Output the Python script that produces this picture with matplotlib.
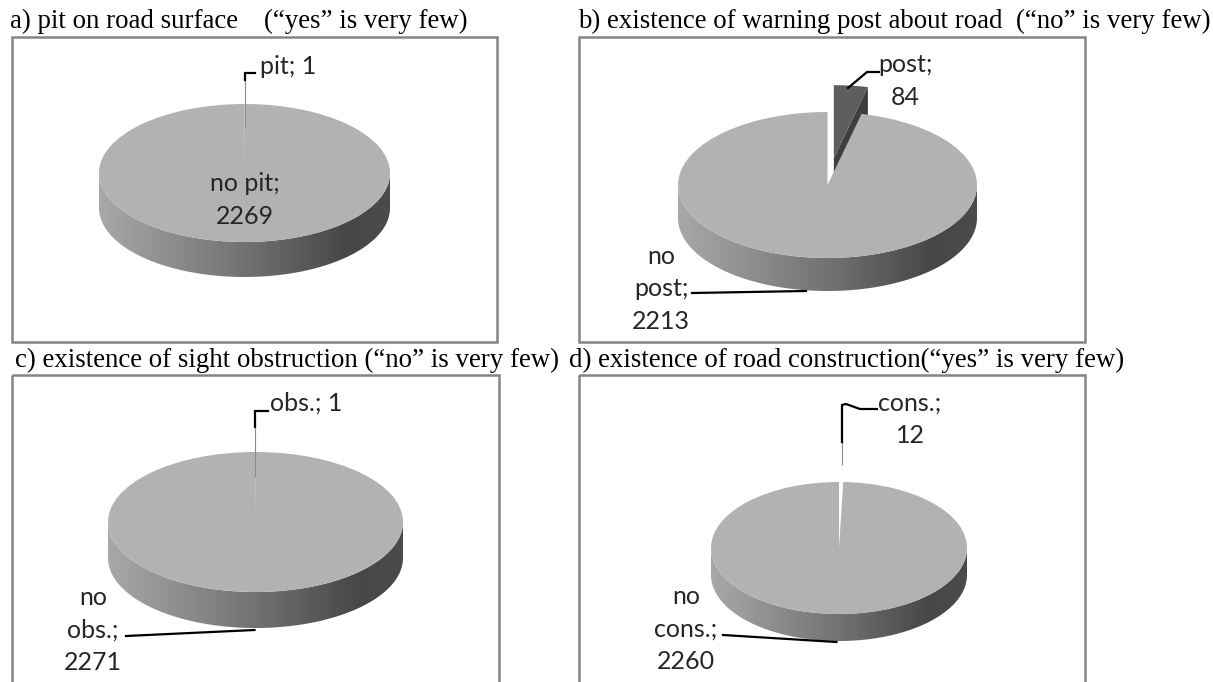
import numpy as np
import matplotlib.pyplot as plt
from matplotlib.colors import LinearSegmentedColormap
from matplotlib.patches import Polygon, Rectangle

W, H = 1213, 682

# chart text and values
titles = [
    'a) pit on road surface',
    'b) existence of warning post about road  (\u201cno\u201d is very few)',
    'c) existence of sight obstruction (\u201cno\u201d is very few)',
    'd) existence of road construction(\u201cyes\u201d is very few)',
]
note_a = '(\u201cyes\u201d is very few)'
small_names = ['pit', 'post', 'obs.', 'cons.']
small_counts = [1, 84, 1, 12]
big_names = ['no pit', 'no post', 'no obs.', 'no cons.']
big_counts = [2269, 2213, 2271, 2260]

# layout in pixels (y down)
TITLE_POS = [(10, 28), (578, 28), (15, 367), (569, 367)]
NOTE_POS = (264, 28)
BOXES = [(12, 37, 497, 342), (579, 37, 1085, 342),
         (12, 375, 499, 700), (579, 375, 1085, 700)]
# centre x, centre y, x radius, y radius, side depth
PIES = [(244.5, 173, 145.5, 69, 35), (827.5, 185, 149.5, 73, 33),
        (255.5, 522, 147.5, 70, 36), (839, 548, 128, 66, 27)]
EXPLODE = [0, 0.37, 0, 0]
SMALL_COLORS = ['#b2b2b2', '#5e5e5e', '#b2b2b2', 'white']
TOP_COLOR = '#b2b2b2'
CUT_COLOR = '#3e3e3e'
SMALL_WRAP = [False, True, False, True]
BIG_WRAP = [False, True, True, True]
SMALL_POS = [(260, 67, 'left'), (905, 81, 'center'),
             (270, 403, 'left'), (910, 419, 'center')]
BIG_POS = [(245, 200), (661, 289), (93, 630), (686, 629)]
LEADERS_THIN = [[[(244.5, 128), (244.5, 78)]], [],
                [[(255, 477), (255, 425)]], [[(842, 465), (842, 440)]]]
LEADERS = [
    [[(244.5, 80), (244.5, 73), (255, 73)]],
    [[(848, 88), (867, 72), (879, 72)], [(692, 293), (806, 291)]],
    [[(255, 427), (255, 411), (268, 411)], [(126, 636), (254.5, 630)]],
    [[(842, 442), (842, 405), (846, 404), (860, 409), (877, 409)],
     [(723, 635), (836.5, 642)]],
]

side_cmap = LinearSegmentedColormap.from_list(
    'side', [(0, '#a8a8a8'), (0.5, '#727272'), (0.85, '#474747'), (1, '#4b4b4b')])

fig = plt.figure(figsize=(W / 100, H / 100), dpi=100)
base = fig.add_axes([0, 0, 1, 1])
base.set_xlim(0, W)
base.set_ylim(H, 0)
base.axis('off')

serif = 'Liberation Serif'
for (x, y), t in zip(TITLE_POS, titles):
    base.text(x, y, t, fontsize=19.4, family=serif, va='baseline', ha='left')
base.text(NOTE_POS[0], NOTE_POS[1], note_a, fontsize=19.4, family=serif,
          va='baseline', ha='left')

for x0, y0, x1, y1 in BOXES:
    base.add_patch(Rectangle((x0, y0), x1 - x0, y1 - y0, fill=False,
                             edgecolor='#858585', linewidth=1.8))

for i in range(4):
    cx, cy, rx, ry, depth = PIES[i]
    d = depth / ry
    pax = fig.add_axes([0, 0, 1, 1])
    vals = [small_counts[i], big_counts[i]]
    wedges, _ = pax.pie(vals, startangle=90, counterclock=False,
                        explode=[EXPLODE[i], 0],
                        colors=[SMALL_COLORS[i], TOP_COLOR],
                        wedgeprops=dict(linewidth=0))
    wedges[0].set_zorder(2)
    wedges[1].set_zorder(4)

    # front side of the big slice
    t = np.linspace(np.pi, 2 * np.pi, 200)
    xs = np.concatenate([np.cos(t), np.cos(t[::-1])])
    ys = np.concatenate([np.sin(t), np.sin(t[::-1]) - d])
    side = Polygon(np.column_stack([xs, ys]), closed=True,
                   transform=pax.transData)
    grad = np.linspace(0, 1, 256)[None, :]
    img = pax.imshow(grad, cmap=side_cmap, extent=(-1, 1, -1 - d - 0.02, 0.02),
                     aspect='auto', zorder=3, interpolation='bilinear')
    img.set_clip_path(side)

    # visible cut face of an exploded slice
    if EXPLODE[i] > 0:
        w = wedges[0]
        ox, oy = w.center
        a = np.deg2rad(w.theta1)
        rx_, ry_ = ox + w.r * np.cos(a), oy + w.r * np.sin(a)
        pax.add_patch(Polygon([(ox, oy), (rx_, ry_), (rx_, ry_ - d), (ox, oy - d)],
                              closed=True, facecolor=CUT_COLOR, linewidth=0,
                              zorder=1))

    pax.set_aspect('auto')
    pax.set_xlim(-cx / rx, (W - cx) / rx)
    pax.set_ylim((cy - H) / ry, cy / ry)
    pax.axis('off')

top = fig.add_axes([0, 0, 1, 1])
top.set_xlim(0, W)
top.set_ylim(H, 0)
top.axis('off')

label_font = dict(family='Lato', fontsize=18, color='#262626', linespacing=1.5)
for i in range(4):
    sep = '\n' if SMALL_WRAP[i] else ' '
    x, y, ha = SMALL_POS[i]
    top.text(x, y, f'{small_names[i]};{sep}{small_counts[i]}', ha=ha,
             va='center', multialignment='center', **label_font)
    head = big_names[i].replace(' ', '\n') if BIG_WRAP[i] else big_names[i]
    x, y = BIG_POS[i]
    top.text(x, y, f'{head};\n{big_counts[i]}', ha='center', va='center',
             multialignment='center', **label_font)
    for seg in LEADERS_THIN[i]:
        sx, sy = zip(*seg)
        top.plot(sx, sy, color='#8c8c8c', lw=0.8, solid_capstyle='butt')
    for seg in LEADERS[i]:
        sx, sy = zip(*seg)
        top.plot(sx, sy, color='black', lw=1.6, solid_joinstyle='miter')

fig.savefig('out.png', dpi=100)
